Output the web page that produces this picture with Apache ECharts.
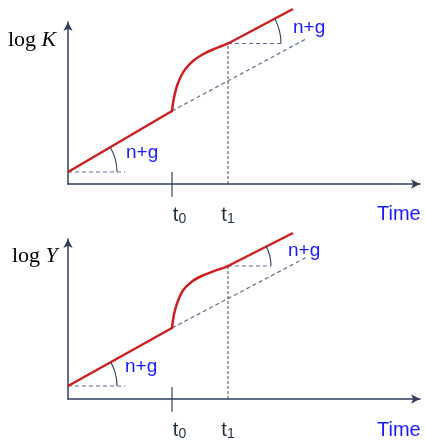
<!DOCTYPE html>
<html><head><meta charset="utf-8">
<script src="https://cdn.jsdelivr.net/npm/echarts@6/dist/echarts.min.js"></script>
<style>html,body{margin:0;padding:0;background:#fff}#c{width:425px;height:442px}</style>
</head><body><div id="c"></div>
<script>
// ---- data (time units, log units) ----
const t0 = 13, t1 = 20;
const tickLabels = ['t0', 't1'];
const axisNames = ['log K', 'log Y'];
const xName = 'Time';
const slopeLabel = 'n+g';

const tK   = [0, 13, 13.16, 13.375, 13.66, 14.09, 14.75, 15.66, 16.71, 17.96, 19.21, 20, 28.125];
const logK = [1.5, 9.125, 10.29, 11.34, 12.375, 13.41, 14.46, 15.41, 16.125, 16.75, 17.25, 17.56, 21.875];
const trendKT = [13, 29.875];
const trendK  = [9.125, 18.2];
const refKT = [[0, 7.125], [20, 26.75]];

const tY   = [0, 13, 13.125, 13.375, 13.79, 14.41, 15.46, 16.71, 18.16, 19.625, 20, 28.125];
const logY = [1.625, 8.875, 9.875, 11.125, 12.375, 13.625, 14.66, 15.375, 15.96, 16.46, 16.625, 20.75];
const trendYT = [13, 29.875];
const trendY  = [8.875, 17.75];
const refYT = [[0, 7.125], [20, 25.375]];

// ---- styles ----
const RED = '#cc2020', AXIS = '#2e405c', DASH = '#5a7090', BLUE = '#1a1aff', TXT = '#1f2d3d';

const pts = (xs, ys) => xs.map((x, i) => [x, ys[i]]);

function panel(idx, tt, vv, trT, trV, refT) {
  const n = tt.length;
  const seg1 = pts(tt.slice(0, 2), vv.slice(0, 2));
  const curve = pts(tt.slice(1, n - 1), vv.slice(1, n - 1));
  const seg3 = pts(tt.slice(n - 2), vv.slice(n - 2));
  const y1 = vv[tt.indexOf(t1)];
  const common = { xAxisIndex: idx, yAxisIndex: idx, symbol: 'none', clip: false, silent: true, z: 3 };
  const s = [];
  s.push(Object.assign({ type: 'line', data: pts(trT, trV), lineStyle: { color: DASH, width: 1.2, type: [4, 3] } }, common));
  s.push(Object.assign({ type: 'line', data: [[refT[0][0], vv[0]], [refT[0][1], vv[0]]], lineStyle: { color: DASH, width: 1.2, type: [4, 3] } }, common));
  s.push(Object.assign({ type: 'line', data: [[refT[1][0], y1], [refT[1][1], y1]], lineStyle: { color: DASH, width: 1.2, type: [4, 3] } }, common));
  s.push(Object.assign({ type: 'line', data: [[t1, 0], [t1, y1]], lineStyle: { color: '#444', width: 1, type: [3, 2] } }, common));
  s.push(Object.assign({ type: 'line', data: [[t0, -1.6], [t0, 1.5]], lineStyle: { color: AXIS, width: 1.2 } }, common));
  s.push(Object.assign({ type: 'line', data: seg1, lineStyle: { color: RED, width: 2.5 }, z: 5 }, common));
  s.push(Object.assign({ type: 'line', data: curve, smooth: 0.3, lineStyle: { color: RED, width: 2.5, cap: 'round', join: 'round' }, z: 5 }, common));
  s.push(Object.assign({ type: 'line', data: seg3, lineStyle: { color: RED, width: 2.5 }, z: 5 }, common));
  // angle arcs: centre + point on sloped line
  const arcs = [
    [tt[0], vv[0], tt[1], vv[1], 49],
    [t1, y1, tt[n - 1], vv[n - 1], idx === 0 ? 53 : 43]
  ];
  s.push({
    type: 'custom', xAxisIndex: idx, yAxisIndex: idx, silent: true, clip: false, z: 4,
    data: arcs,
    renderItem: function (params, api) {
      const c = api.coord([api.value(0), api.value(1)]);
      const p = api.coord([api.value(2), api.value(3)]);
      const a = Math.atan2(p[1] - c[1], p[0] - c[0]);
      return { type: 'arc', shape: { cx: c[0], cy: c[1], r: api.value(4), startAngle: a, endAngle: 0, clockwise: true },
        style: { stroke: AXIS, fill: null, lineWidth: 1.1 } };
    }
  });
  return s;
}

const chart = echarts.init(document.getElementById('c'), null, { renderer: 'canvas' });
const gridTop = [22, 239], gridH = [162, 160];
const yMax = [20.25, 20];
const sub = { fontSize: 14, color: TXT, fontFamily: 'Liberation Sans', padding: [8, 0, 0, 0] };
function xAx(i) {
  return {
    type: 'value', gridIndex: i, min: 0, max: 44,
    axisLine: { show: true, onZero: false, lineStyle: { color: AXIS, width: 1.5 }, symbol: ['none', 'arrow'], symbolSize: [7, 9] },
    axisTick: { show: false }, splitLine: { show: false },
    axisLabel: {
      customValues: [t0, t1], margin: 20, color: TXT, fontFamily: 'Liberation Sans',
      formatter: v => v === t0 ? '{p|}{t|' + tickLabels[0][0] + '}{s|' + tickLabels[0][1] + '}'
                               : '{t|' + tickLabels[1][0] + '}{s|' + tickLabels[1][1] + '}',
      rich: { p: { width: 15 }, t: { fontSize: 20, color: TXT, fontFamily: 'Liberation Sans' }, s: sub }
    }
  };
}
function yAx(i) {
  return {
    type: 'value', gridIndex: i, min: 0, max: yMax[i],
    axisLine: { show: true, onZero: false, lineStyle: { color: AXIS, width: 1.5 }, symbol: ['none', 'arrow'], symbolSize: [7, 9] },
    axisTick: { show: false }, axisLabel: { show: false }, splitLine: { show: false }
  };
}
const txt = (x, y, text, extra) => ({ type: 'text', left: x, top: y, z: 10, style: Object.assign({ text: text, fill: BLUE, font: '19px "Liberation Sans"' }, extra || {}) });
const logText = (x, y, s) => ({
  type: 'text', left: x, top: y, z: 10,
  style: { text: '{a|log }{b|' + s.split(' ')[1] + '}', rich: { a: { fontSize: 22, fontFamily: 'Liberation Serif', color: BLUE }, b: { fontSize: 22, fontFamily: 'Liberation Serif', fontStyle: 'italic', color: BLUE } } }
});
chart.setOption({
  animation: false,
  grid: [
    { left: 68, top: gridTop[0], width: 352, height: gridH[0] },
    { left: 68, top: gridTop[1], width: 352, height: gridH[1] }
  ],
  xAxis: [xAx(0), xAx(1)],
  yAxis: [yAx(0), yAx(1)],
  series: [].concat(panel(0, tK, logK, trendKT, trendK, refKT), panel(1, tY, logY, trendYT, trendY, refYT)),
  graphic: [
    logText(8, 29, axisNames[0]),
    logText(12, 245, axisNames[1]),
    txt(377, 204, xName, { font: '20px "Liberation Sans"' }),
    txt(377, 420, xName, { font: '20px "Liberation Sans"' }),
    txt(126, 143, slopeLabel),
    txt(293, 18, slopeLabel),
    txt(288, 241, slopeLabel),
    txt(125, 357, slopeLabel)
  ]
});
</script></body></html>
